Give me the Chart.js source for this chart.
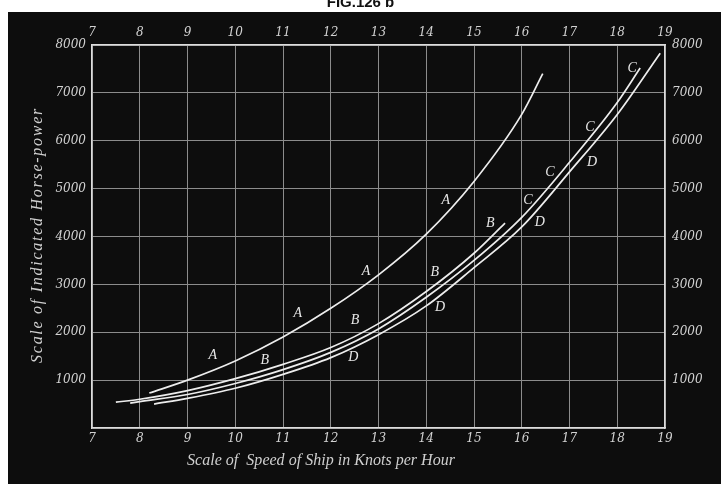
<!DOCTYPE html>
<html><head><meta charset="utf-8">
<script src="https://cdn.jsdelivr.net/npm/chart.js@4"></script>
<style>
html,body{margin:0;padding:0;background:#fff;}
#wrap{position:relative;width:721px;height:484px;overflow:hidden;background:#fff;}
#fig{position:absolute;top:-7px;left:0;width:721px;text-align:center;font:bold 15px "Liberation Sans",Arial,sans-serif;color:#111;}
canvas{position:absolute;left:0;top:0;}
</style></head><body>
<div id="wrap"><canvas id="c" width="721" height="484"></canvas><div id="fig">FIG.126 b</div></div>
<script>
// ---- data ----
const speedTicks = [7,8,9,10,11,12,13,14,15,16,17,18,19];
const hpTicks = [1000,2000,3000,4000,5000,6000,7000,8000];

const speedA = [8.2, 9, 10, 11, 12, 13, 14, 15, 16, 16.44];
const hpA    = [730, 1000, 1400, 1900, 2500, 3200, 4050, 5150, 6550, 7400];

const speedB = [7.5, 8, 9, 10, 11, 12, 13, 14, 15, 15.65];
const hpB    = [540, 600, 780, 1030, 1330, 1680, 2180, 2850, 3650, 4280];

const speedC = [7.8, 8, 9, 10, 11, 12, 13, 14, 15, 16, 17, 18, 18.48];
const hpC    = [520, 550, 700, 930, 1220, 1580, 2070, 2730, 3500, 4400, 5550, 6800, 7520];

const speedD = [8.3, 9, 10, 11, 12, 13, 14, 15, 16, 17, 18, 18.9];
const hpD    = [500, 620, 830, 1120, 1470, 1950, 2550, 3350, 4200, 5350, 6550, 7830];

// curve letters placed along the curves (speed, hp)
const letterNames  = ['A','A','A','A','B','B','B','B','C','C','C','C','D','D','D','D'];
const letterSpeeds = [9.53,11.31,12.74,14.41, 10.62,12.51,14.18,15.34, 16.13,16.59,17.43,18.31, 12.47,14.29,16.38,17.47];
const letterHp     = [1524,2401,3278,4760, 1420,2255,3257,4280, 4760,5344,6284,7516, 1482,2526,4301,5553];

const xTitle = 'Scale of  Speed of Ship in Knots per Hour';
const yTitle = 'Scale of Indicated Horse-power';

function pts(xs, ys){ return xs.map((x,i)=>({x:x, y:ys[i]})); }

const lineStyle = {borderColor:'#ededed', borderWidth:1.7, pointRadius:0, fill:false, cubicInterpolationMode:'monotone', showLine:true};

const bgPlugin = {
  id:'bg',
  beforeDraw(chart){
    const ctx = chart.ctx;
    ctx.save();
    ctx.fillStyle = '#0d0d0d';
    ctx.fillRect(8, 12, chart.width-8, chart.height-12);
    ctx.restore();
  }
};

const textPlugin = {
  id:'texts',
  afterDatasetsDraw(chart){
    const ctx = chart.ctx, xs = chart.scales.x, ys = chart.scales.y;
    ctx.save();
    ctx.fillStyle = '#e6e6e6';
    ctx.font = 'italic 14px "Liberation Serif", "DejaVu Serif", serif';
    ctx.textAlign = 'center';
    ctx.textBaseline = 'middle';
    letterNames.forEach((t,i)=>{
      ctx.fillText(t, xs.getPixelForValue(letterSpeeds[i]), ys.getPixelForValue(letterHp[i]));
    });
    ctx.restore();
  },
  afterDraw(chart){
    const ctx = chart.ctx, a = chart.chartArea;
    ctx.save();
    ctx.fillStyle = '#cfcfcf';
    ctx.textAlign = 'center';
    ctx.textBaseline = 'middle';
    // x title
    ctx.font = 'italic 16px "Liberation Serif", "DejaVu Serif", serif';
    let w = ctx.measureText(xTitle).width;
    let target = 268;
    ctx.letterSpacing = ((target - w) / xTitle.length).toFixed(2) + 'px';
    ctx.fillText(xTitle, a.left + 229, a.bottom + 33);
    // y title
    ctx.letterSpacing = '0px';
    ctx.font = 'italic 16px "Liberation Serif", "DejaVu Serif", serif';
    w = ctx.measureText(yTitle).width;
    target = 256;
    ctx.letterSpacing = ((target - w) / yTitle.length).toFixed(2) + 'px';
    ctx.translate(a.left - 54, a.top + 190);
    ctx.rotate(-Math.PI/2);
    ctx.fillText(yTitle, 0, 0);
    ctx.restore();
  }
};

const tickFont = {family:'"DejaVu Serif", serif', size:12, style:'italic'};
const tickColor = '#d2d2d2';

function xAxis(pos, h, pad, grid){
  return {
    type:'linear', position:pos, min:7, max:19,
    afterBuildTicks(s){ s.ticks = speedTicks.map(v=>({value:v})); },
    ticks:{color:tickColor, font:tickFont, padding:pad, maxRotation:0, autoSkip:false},
    grid: grid ? {color:'#8c8c8c', lineWidth:1, drawTicks:false} : {display:false, drawTicks:false},
    border:{color:'#dcdcdc', width:1.5},
    afterFit(s){ s.height = h; }
  };
}
function yAxis(pos, w, pad, grid){
  return {
    type:'linear', position:pos, min:0, max:8000,
    afterBuildTicks(s){ s.ticks = [0].concat(hpTicks).map(v=>({value:v})); },
    ticks:{color:tickColor, font:tickFont, padding:pad, callback:(v)=> v===0 ? '' : String(v)},
    grid: grid ? {color:'#8c8c8c', lineWidth:1, drawTicks:false} : {display:false, drawTicks:false},
    border:{color:'#dcdcdc', width:1.5},
    afterFit(s){ s.width = w; }
  };
}

new Chart(document.getElementById('c'), {
  type:'scatter',
  data:{datasets:[
    Object.assign({label:'A', data:pts(speedA,hpA)}, lineStyle),
    Object.assign({label:'B', data:pts(speedB,hpB)}, lineStyle),
    Object.assign({label:'C', data:pts(speedC,hpC)}, lineStyle),
    Object.assign({label:'D', data:pts(speedD,hpD)}, lineStyle)
  ]},
  options:{
    responsive:false, animation:false, devicePixelRatio:1,
    layout:{padding:0},
    plugins:{legend:{display:false}, tooltip:{enabled:false}, title:{display:false}},
    scales:{
      x: xAxis('bottom', 56, 4, true),
      x2: xAxis('top', 45, 5, false),
      y: yAxis('left', 92, 6, true),
      y2: yAxis('right', 56, 7, false)
    }
  },
  plugins:[bgPlugin, textPlugin]
});
</script>
</body></html>
